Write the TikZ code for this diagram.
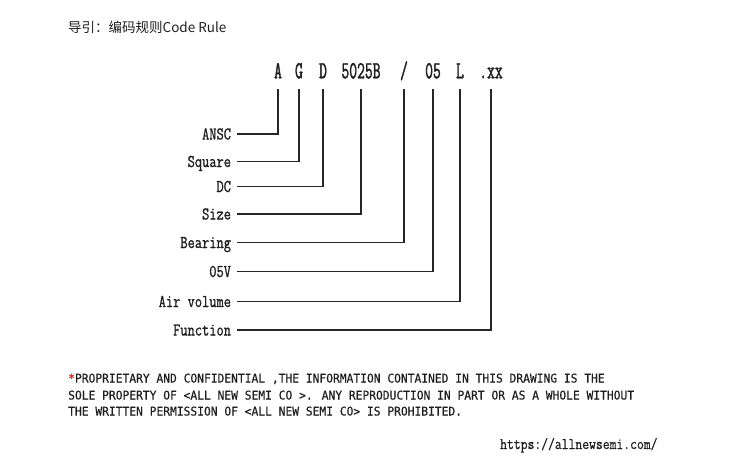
\documentclass[tikz,border=0pt]{standalone}
\usepackage{fontspec}
\newfontfamily\cjkfont{Noto Sans CJK SC}
\newfontfamily\codefont{Latin Modern Mono}[FakeStretch=0.62,FakeBold=1.4]
\newfontfamily\lblfont{Latin Modern Mono}[FakeStretch=0.78,FakeBold=1]
\newfontfamily\urlfont{Latin Modern Mono}[FakeStretch=0.83,FakeBold=0.6]
\newfontfamily\notefont{DejaVu Sans Mono}[FakeStretch=0.94,FakeBold=0.5]
\definecolor{ink}{RGB}{30,30,30}
\definecolor{star}{RGB}{225,30,30}

\begin{document}
\begin{tikzpicture}[x=1pt,y=-1pt,
    code/.style={font=\codefont\fontsize{24.5}{26}\selectfont,text=ink,anchor=base,
        text depth=0pt,inner xsep=0pt,inner ysep=10.7pt,outer sep=0pt},
    lbl/.style={font=\lblfont\fontsize{18}{20}\selectfont,text=ink,anchor=east,
        text height=11pt,text depth=0pt,inner xsep=6pt,inner ysep=0pt,outer sep=0pt},
    note/.style={font=\notefont\fontsize{12}{17}\selectfont,text=ink,anchor=base west,inner sep=0pt},
    conn/.style={draw=black!85,line width=1.4pt}]
    \useasboundingbox (0,0) rectangle (741,468);

    \node[font=\cjkfont\fontsize{13.5}{15}\selectfont,text=ink,anchor=base west,inner sep=0pt]
        (title) at (68,33) {导引：编码规则Code Rule};

    % code letters
    \foreach \n/\x/\t in {a/278/A,g/299/G,d/323/D,size/361/5025B,
                          slash/404/{/},volt/433/05,air/460/L,func/491/.xx}
        \node[code] (c\n) at (\x,78.3) {\t};

    % labels
    \foreach \n/\y/\t in {a/134/ANSC,g/161.5/Square,d/186.5/DC,size/214/Size,
                          slash/242.5/Bearing,volt/271.5/05V,air/301.5/Air volume,func/330/Function}
        \node[lbl] (l\n) at (237,\y) {\t};

    \foreach \n in {a,g,d,size,slash,volt,air,func}
        \draw[conn] (l\n.east) -| (c\n.south);

    % notice
    \node[note] (note1) at (68,382.5) {\textcolor{star}{*}PROPRIETARY AND CONFIDENTIAL ,THE INFORMATION CONTAINED IN THIS DRAWING IS THE};
    \node[note] (note2) at (68,399.5) {SOLE PROPERTY OF <ALL NEW SEMI CO >. ANY REPRODUCTION IN PART OR AS A WHOLE WITHOUT};
    \node[note] (note3) at (68,415.5) {THE WRITTEN PERMISSION OF <ALL NEW SEMI CO> IS PROHIBITED.};

    \node[font=\urlfont\fontsize{16}{18}\selectfont,text=ink,anchor=base west,inner sep=0pt]
        (url) at (500,449) {https://allnewsemi.com/};
\end{tikzpicture}
\end{document}
